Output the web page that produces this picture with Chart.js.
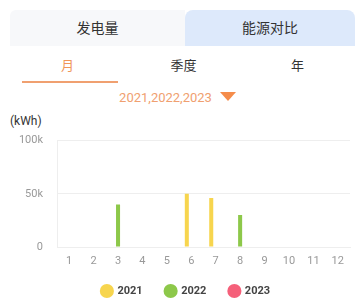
<!DOCTYPE html>
<html>
<head>
<meta charset="utf-8">
<script src="https://cdn.jsdelivr.net/npm/chart.js@4"></script>
<style>
  body { margin: 0; width: 355px; height: 300px; background: #fff; font-family: Roboto, "Noto Sans CJK SC", sans-serif; overflow: hidden; position: relative; }
  .tabs { position: absolute; left: 10px; top: 10px; width: 345px; height: 36px; }
  .tab { position: absolute; top: 0; height: 36px; line-height: 36px; text-align: center; font-size: 14px; color: #333; }
  .tab.a { left: 0; width: 175px; background: #f7f8fa; border-radius: 6px 0 0 0; }
  .tab.b { left: 175px; width: 170px; background: #dde9fb; border-radius: 8px 8px 0 0; }
  .period { position: absolute; top: 55px; font-size: 13px; color: #333; text-align: center; width: 115px; }
  .period.on { color: #f0965a; }
  .uline { position: absolute; left: 22px; top: 81px; width: 96px; height: 2px; background: #f0a070; }
  .years { position: absolute; top: 90px; left: 0; width: 355px; text-align: center; font-size: 13px; color: #f0a070; }
  .tri { display: inline-block; width: 0; height: 0; border-left: 8px solid transparent; border-right: 8px solid transparent; border-top: 9px solid #f58c4a; margin-left: 8px; vertical-align: 1px; }
  .unit { position: absolute; left: 10px; top: 114px; font-size: 12px; color: #333; }
  #wrap { position: absolute; left: 0; top: 120px; width: 355px; height: 180px; }
</style>
</head>
<body>
<div class="tabs"><div class="tab a">发电量</div><div class="tab b">能源对比</div></div>
<div class="period on" style="left:10px">月</div>
<div class="period" style="left:126px">季度</div>
<div class="period" style="left:240px">年</div>
<div class="uline"></div>
<div class="years">2021,2022,2023<span class="tri"></span></div>
<div class="unit">(kWh)</div>
<div id="wrap"><canvas id="chart"></canvas></div>
<script>
// months on the x axis
var months = ['1', '2', '3', '4', '5', '6', '7', '8', '9', '10', '11', '12'];
var years = ['2021', '2022', '2023'];
var yTicks = [0, 50000, 100000];

// generation per month (kWh)
var data2021 = [null, null, null, null, null, 50000, 46000, null, null, null, null, null];
var data2022 = [null, null, 40000, null, null, null, null, 30000, null, null, null, null];
var data2023 = [null, null, null, null, null, null, null, null, null, null, null, null];

var colors = ['#f7d54e', '#8dc84a', '#f5607a'];

// short legend box, then move it a bit up/right after layout so the items land where the app puts them
var legendTweak = {
    id: 'legendTweak',
    beforeInit: function(chart) {
        var fit = chart.legend.fit;
        chart.legend.fit = function() {
            fit.call(this);
            this.height = 32;
        };
    },
    afterLayout: function(chart) {
        chart.legend.top -= 5.5;
        chart.legend.left += 11;
        chart.legend.right += 11;
    }
};

var ctx = document.getElementById('chart').getContext('2d');
var chart = new Chart(ctx, {
    type: 'bar',
    data: {
        labels: months,
        datasets: [
            { label: years[0], data: data2021, backgroundColor: colors[0] },
            { label: years[1], data: data2022, backgroundColor: colors[1] },
            { label: years[2], data: data2023, backgroundColor: colors[2] }
        ]
    },
    options: {
        responsive: true,
        maintainAspectRatio: false,
        animation: false,
        categoryPercentage: 0.55,
        barPercentage: 0.9,
        layout: { padding: { top: 4, right: 5, bottom: 0, left: 0 } },
        plugins: {
            tooltip: { enabled: false },
            legend: {
                position: 'bottom',
                labels: {
                    usePointStyle: true,
                    pointStyle: 'circle',
                    boxWidth: 10,
                    boxHeight: 10,
                    padding: 23,
                    color: '#444',
                    font: { size: 11, weight: 'bold', family: 'Roboto' }
                }
            }
        },
        scales: {
            x: {
                afterFit: function(scale) { scale.height = 21; },
                grid: { display: false, drawTicks: false },
                border: { color: '#eeeeee' },
                ticks: { color: '#999', padding: 8, font: { size: 11, family: 'Roboto' } }
            },
            y: {
                min: 0,
                max: 100000,
                afterFit: function(scale) { scale.width = 57; },
                afterBuildTicks: function(scale) {
                    scale.ticks = yTicks.map(function(v) { return { value: v }; });
                },
                grid: { color: '#eeeeee', drawTicks: false },
                border: { color: '#eeeeee' },
                ticks: {
                    color: '#999',
                    padding: 14,
                    font: { size: 11, family: 'Roboto' },
                    callback: function(v) { return v === 0 ? '0' : (v / 1000) + 'k'; }
                }
            }
        }
    },
    plugins: [legendTweak]
});
</script>
</body>
</html>
